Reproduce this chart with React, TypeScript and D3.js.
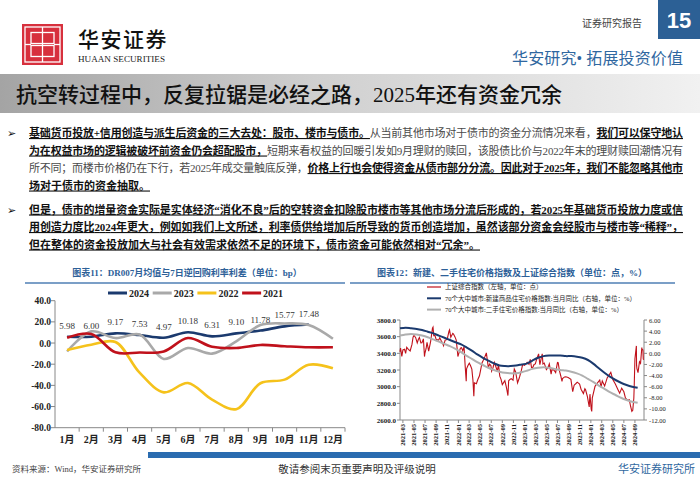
import React from 'react';
import * as d3 from 'd3';

// ---- 图表11 data ----
const monthLabels = ['1月', '2月', '3月', '4月', '5月', '6月', '7月', '8月', '9月', '10月', '11月', '12月'];
const spread2024 = [5.98, 6.0, 9.17, 7.53, 4.97, 10.18, 6.31, 9.1, 11.78, 15.77, 17.48];
const spread2023 = [-8, 11, 4.7, 8, -15, -4.7, -10, 1.6, 17, 18.5, 17, 4];
const spread2022 = [-6.5, -1.6, 1, -28, -46.6, -37.8, -53.5, -62.5, -38, -34.6, -20.5, -23.8];
const spread2021 = [5, 8.5, -8.8, -9, -8, 4.7, -3.5, -4.7, -1.8, -3, -4, -4];
const spreadTicks = [40, 20, 0, -20, -40, -60, -80];

// ---- 图表12 data ----
const sseDaily: [string, number][] = [
  ['2021-03-15', 3419], ['2021-03-18', 3463], ['2021-03-25', 3363], ['2021-03-31', 3441],
  ['2021-04-09', 3450], ['2021-04-15', 3399], ['2021-04-21', 3473], ['2021-04-30', 3447],
  ['2021-05-10', 3428], ['2021-05-20', 3507], ['2021-05-26', 3593], ['2021-05-31', 3615],
  ['2021-06-09', 3591], ['2021-06-18', 3525], ['2021-06-24', 3566], ['2021-06-30', 3591],
  ['2021-07-08', 3525], ['2021-07-14', 3528], ['2021-07-22', 3574], ['2021-07-28', 3361],
  ['2021-07-30', 3397], ['2021-08-06', 3458], ['2021-08-11', 3532], ['2021-08-20', 3427],
  ['2021-08-31', 3544], ['2021-09-10', 3703], ['2021-09-13', 3715], ['2021-09-17', 3613],
  ['2021-09-24', 3613], ['2021-09-30', 3568], ['2021-10-14', 3558], ['2021-10-20', 3587],
  ['2021-10-29', 3547], ['2021-11-04', 3526], ['2021-11-10', 3492], ['2021-11-19', 3560],
  ['2021-11-26', 3564], ['2021-12-01', 3576], ['2021-12-10', 3666], ['2021-12-13', 3681],
  ['2021-12-20', 3593], ['2021-12-31', 3640],
  ['2022-01-04', 3632], ['2022-01-12', 3597], ['2022-01-19', 3558], ['2022-01-27', 3394],
  ['2022-01-28', 3361], ['2022-02-11', 3462], ['2022-02-17', 3468], ['2022-02-24', 3430],
  ['2022-03-03', 3481], ['2022-03-09', 3256], ['2022-03-15', 3064], ['2022-03-17', 3215],
  ['2022-03-24', 3250], ['2022-04-01', 3282], ['2022-04-08', 3251], ['2022-04-15', 3211],
  ['2022-04-21', 3080], ['2022-04-26', 2886], ['2022-04-29', 3047], ['2022-05-10', 3035],
  ['2022-05-18', 3086], ['2022-05-27', 3130], ['2022-06-02', 3195], ['2022-06-10', 3285],
  ['2022-06-17', 3316], ['2022-06-24', 3349], ['2022-07-04', 3405], ['2022-07-15', 3228],
  ['2022-07-22', 3270], ['2022-07-29', 3253], ['2022-08-02', 3186], ['2022-08-10', 3230],
  ['2022-08-17', 3292], ['2022-08-26', 3236], ['2022-09-02', 3186], ['2022-09-09', 3262],
  ['2022-09-16', 3126], ['2022-09-23', 3088], ['2022-09-30', 3024], ['2022-10-14', 3071],
  ['2022-10-24', 2977], ['2022-10-31', 2893], ['2022-11-04', 3071], ['2022-11-11', 3087],
  ['2022-11-18', 3097], ['2022-11-28', 3078], ['2022-12-05', 3212], ['2022-12-12', 3179],
  ['2022-12-23', 3045], ['2022-12-30', 3089],
  ['2023-01-03', 3116], ['2023-01-13', 3195], ['2023-01-20', 3265], ['2023-01-31', 3256],
  ['2023-02-03', 3263], ['2023-02-14', 3293], ['2023-02-24', 3267], ['2023-03-03', 3328],
  ['2023-03-10', 3230], ['2023-03-16', 3227], ['2023-03-24', 3266], ['2023-03-31', 3273],
  ['2023-04-07', 3327], ['2023-04-18', 3393], ['2023-04-25', 3264], ['2023-05-08', 3395],
  ['2023-05-12', 3273], ['2023-05-19', 3283], ['2023-05-31', 3205], ['2023-06-09', 3231],
  ['2023-06-16', 3273], ['2023-06-26', 3150], ['2023-06-30', 3202], ['2023-07-10', 3203],
  ['2023-07-21', 3168], ['2023-07-31', 3291], ['2023-08-04', 3288], ['2023-08-11', 3189],
  ['2023-08-18', 3131], ['2023-08-25', 3064], ['2023-08-28', 3098], ['2023-09-08', 3117],
  ['2023-09-15', 3118], ['2023-09-28', 3110], ['2023-10-13', 3088], ['2023-10-23', 2939],
  ['2023-10-31', 3018], ['2023-11-10', 3038], ['2023-11-17', 3054], ['2023-11-30', 3030],
  ['2023-12-08', 2969], ['2023-12-21', 2918], ['2023-12-29', 2975],
  ['2024-01-02', 2962], ['2024-01-12', 2881], ['2024-01-22', 2756], ['2024-01-26', 2910],
  ['2024-02-02', 2730], ['2024-02-05', 2702], ['2024-02-08', 2866], ['2024-02-23', 3004],
  ['2024-03-08', 3046], ['2024-03-20', 3080], ['2024-03-27', 2993], ['2024-04-03', 3069],
  ['2024-04-16', 3007], ['2024-04-30', 3105], ['2024-05-20', 3171], ['2024-05-31', 3087],
  ['2024-06-14', 3033], ['2024-06-28', 2967], ['2024-07-08', 2922], ['2024-07-19', 2982],
  ['2024-07-31', 2939], ['2024-08-09', 2862], ['2024-08-22', 2836], ['2024-08-30', 2842],
  ['2024-09-06', 2765], ['2024-09-13', 2704], ['2024-09-18', 2717], ['2024-09-24', 2863],
  ['2024-09-26', 3001], ['2024-09-27', 3088], ['2024-09-30', 3336], ['2024-10-08', 3489],
  ['2024-10-09', 3258], ['2024-10-11', 3217], ['2024-10-17', 3169], ['2024-10-25', 3299],
  ['2024-10-31', 3279], ['2024-11-07', 3470], ['2024-11-08', 3452], ['2024-11-13', 3439],
  ['2024-11-15', 3331], ['2024-11-18', 3324],
];
// monthly, 2021-03 .. 2024-10
const newHomeYoY = [4.5, 4.6, 4.5, 4.4, 4.2, 3.9, 3.6, 3.2, 2.8, 2.4, 2.0, 1.6, 1.1, 0.5, -0.2, -0.8, -1.3, -1.8, -2.2, -2.3, -2.3, -2.2, -2.0, -1.8, -1.3, -0.8, -0.5, -0.4, -0.4, -0.4, -0.5, -0.5, -0.6, -0.8, -1.2, -1.9, -2.7, -3.5, -4.2, -4.8, -5.3, -5.7, -6.0, -6.2];
const usedHomeYoY = [3.2, 3.4, 3.5, 3.4, 3.2, 2.9, 2.5, 2.1, 1.7, 1.3, 0.8, 0.2, -0.4, -1.0, -1.6, -2.1, -2.6, -3.0, -3.3, -3.5, -3.6, -3.6, -3.4, -3.1, -2.8, -2.6, -2.5, -2.6, -2.8, -3.0, -3.1, -3.3, -3.6, -4.0, -4.6, -5.2, -5.8, -6.4, -7.0, -7.5, -8.0, -8.4, -8.7, -8.9];
const priceTickLabels = ['2021-03', '2021-05', '2021-07', '2021-09', '2021-11', '2022-01', '2022-03', '2022-05', '2022-07', '2022-09', '2022-11', '2023-01', '2023-03', '2023-05', '2023-07', '2023-09', '2023-11', '2024-01', '2024-03', '2024-05', '2024-07', '2024-09'];
const sseTicks = [3800, 3600, 3400, 3200, 3000, 2800, 2600];
const yoyTicks = [6, 4, 2, 0, -2, -4, -6, -8, -10, -12];

// ---- page text ----
type Seg = [string, boolean];
const paragraph: { segs: Seg[]; full: boolean; bullet?: boolean }[] = [
  { bullet: true, full: true, segs: [['基础货币投放+信用创造与派生后资金的三大去处：股市、楼市与债市。', true], ['从当前其他市场对于债市的资金分流情况来看，', false], ['我们可以保守地认', true]] },
  { full: true, segs: [['为在权益市场的逻辑被破坏前资金仍会超配股市，', true], ['短期来看权益的回暖引发如9月理财的赎回，该股债比价与2022年末的理财赎回潮情况有', false]] },
  { full: true, segs: [['所不同；而楼市价格仍在下行，若2025年成交量触底反弹，', false], ['价格上行也会使得资金从债市部分分流。因此对于2025年，我们不能忽略其他市', true]] },
  { full: false, segs: [['场对于债市的资金抽取。', true]] },
  { bullet: true, full: true, segs: [['但是，债市的增量资金实际是实体经济“消化不良”后的空转资金扣除股市楼市等其他市场分流后形成的，若2025年基础货币投放力度或信', true]] },
  { full: true, segs: [['用创造力度比2024年更大，例如如我们上文所述，利率债供给增加后所导致的货币创造增加，虽然该部分资金会经股市与楼市等“稀释”，', true]] },
  { full: false, segs: [['但在整体的资金投放加大与社会有效需求依然不足的环境下，债市资金可能依然相对“冗余”。', true]] },
];
const lineYs = [137, 154.5, 172, 189.5, 213.5, 231, 248.5];

const FONT = '"Liberation Serif", "Noto Sans CJK SC", serif';
const BLUE = '#2d6098';

export default function App() {
  // 图表11
  const xM = d3.scaleBand<string>().domain(monthLabels).range([55, 345]);
  const yS = d3.scaleLinear().domain([-80, 40]).range([427.7, 300.7]);
  const cx = (i: number) => xM(monthLabels[i])! + xM.bandwidth() / 2;
  const spreadLine = d3
    .line<number>()
    .x((_, i) => cx(i))
    .y((d) => yS(d))
    .curve(d3.curveCatmullRom.alpha(0.5));
  const spreadSeries = [
    { name: '2024', values: spread2024, color: '#1b3a6e' },
    { name: '2023', values: spread2023, color: '#a9a9a9' },
    { name: '2022', values: spread2022, color: '#f5c21b' },
    { name: '2021', values: spread2021, color: '#c0111b' },
  ];

  // 图表12
  const parse = d3.timeParse('%Y-%m-%d');
  const xT = d3.scaleTime().domain([parse('2021-03-15')!, parse('2024-11-19')!]).range([400, 644]);
  const yL = d3.scaleLinear().domain([2600, 3800]).range([420, 320]);
  const yR = d3.scaleLinear().domain([-12, 6]).range([420, 320]);
  const ssePts = sseDaily.map(([d, v]) => [parse(d)!, v] as [Date, number]);
  const sseLine = d3.line<[Date, number]>().x((d) => xT(d[0])).y((d) => yL(d[1]));
  const monthDate = (i: number) => new Date(2021, 2 + i, 15);
  const yoyLine = d3
    .line<number>()
    .x((_, i) => xT(monthDate(i)))
    .y((d) => yR(d))
    .curve(d3.curveCatmullRom.alpha(0.5));
  const tickX = (lab: string) => {
    const [y, m] = lab.split('-').map(Number);
    return xT(new Date(y, m, 0));
  };

  return (
    <svg width={700} height={485} style={{ position: 'absolute', left: 0, top: 0, background: '#fff' }} fontFamily={FONT}>
      <defs>
        <linearGradient id="band" x1="0" x2="1" y1="0" y2="0">
          <stop offset="0" stopColor="#a4a4a4" />
          <stop offset="0.45" stopColor="#cfcfcf" />
          <stop offset="1" stopColor="#f1f1f1" />
        </linearGradient>
      </defs>

      {/* header */}
      <g transform="translate(22,24)">
        <rect width={41} height={41} fill="#d7303d" />
        <g fill="none" stroke="#fff" strokeWidth={1.3}>
          <rect x={3} y={3} width={35} height={35} />
          <rect x={9} y={8.5} width={23} height={11} />
          <rect x={9} y={21.5} width={23} height={11} />
          <line x1={20.5} y1={3} x2={20.5} y2={38} />
          <line x1={3} y1={20.5} x2={9} y2={20.5} />
          <line x1={32} y1={20.5} x2={38} y2={20.5} />
        </g>
      </g>
      <text x={78} y={47} fontSize={21} fontWeight={500} letterSpacing={1.5} fill="#111">华安证券</text>
      <text x={78} y={62} fontSize={8.5} textLength={87} lengthAdjust="spacingAndGlyphs" fill="#222">HUAAN SECURITIES</text>
      <text x={582} y={27} fontSize={10} fill="#444">证券研究报告</text>
      <rect x={658} y={0} width={42} height={39} fill="#2c6095" />
      <text x={679} y={28} fontSize={22} fontWeight={700} fill="#fff" textAnchor="middle" fontFamily='"Liberation Sans", Arial, sans-serif'>15</text>
      <text x={512} y={64} fontSize={16} fill="#2f67a0" textLength={171}>华安研究• 拓展投资价值</text>

      {/* title band */}
      <rect x={0} y={74} width={700} height={39} fill="url(#band)" />
      <text x={16} y={102} fontSize={21} fontWeight={500} fill="#111">抗空转过程中，反复拉锯是必经之路，2025年还有资金冗余</text>

      {/* paragraphs */}
      {paragraph.map((ln, i) => (
        <g key={i}>
          {ln.bullet && (
            <text x={7} y={lineYs[i]} fontSize={11} fontFamily='"DejaVu Sans", sans-serif' fill="#111">➢</text>
          )}
          <text x={29} y={lineYs[i]} fontSize={11} {...(ln.full ? { textLength: 654, lengthAdjust: 'spacing' } : {})}>
            {ln.segs.map(([t, em], j) => (
              <tspan key={j} fontWeight={em ? 700 : 400} fill={em ? '#111' : '#4a4a4a'} style={em ? { textDecoration: 'underline' } : undefined}>
                {t}
              </tspan>
            ))}
          </text>
        </g>
      ))}

      {/* chart titles */}
      <text x={187} y={276} fontSize={9} fontWeight={700} fill={BLUE} textAnchor="middle">图表11：DR007月均值与7日逆回购利率利差（单位：bp）</text>
      <line x1={25} x2={345} y1={283} y2={283} stroke="#4f7fb5" strokeWidth={1.5} />
      <text x={512} y={276} fontSize={9} fontWeight={700} fill={BLUE} textAnchor="middle">图表12：新建、二手住宅价格指数及上证综合指数（单位：点，%）</text>
      <line x1={350} x2={675} y1={283} y2={283} stroke="#4f7fb5" strokeWidth={1.5} />

      {/* 图表11 */}
      <g>
        {spreadSeries.map((s, i) => (
          <g key={s.name} transform={`translate(${108 + i * 44.7},293)`}>
            <line x1={0} x2={19} y1={0} y2={0} stroke={s.color} strokeWidth={3} />
            <text x={21} y={3.5} fontSize={10} fontWeight={700} fill="#222">{s.name}</text>
          </g>
        ))}
        <line x1={55} x2={55} y1={yS(40)} y2={yS(-80)} stroke="#888" />
        <line x1={55} x2={345} y1={yS(-80)} y2={yS(-80)} stroke="#888" />
        {spreadTicks.map((t) => (
          <g key={t}>
            <line x1={51} x2={55} y1={yS(t)} y2={yS(t)} stroke="#888" />
            <text x={51} y={yS(t) + 3.5} fontSize={9.5} fontWeight={700} fill="#222" textAnchor="end">{t.toFixed(1)}</text>
          </g>
        ))}
        {monthLabels.map((m, i) => (
          <g key={m}>
            <line x1={xM(m)! + xM.bandwidth()} x2={xM(m)! + xM.bandwidth()} y1={yS(-80)} y2={yS(-80) + 4} stroke="#888" />
            <text x={cx(i)} y={443} fontSize={10} fontWeight={700} fill="#222" textAnchor="middle">{m}</text>
          </g>
        ))}
        {spreadSeries.map((s) => (
          <path key={s.name} d={spreadLine(s.values)!} fill="none" stroke={s.color} strokeWidth={2.6} />
        ))}
        {spread2024.map((v, i) => (
          <text key={i} x={cx(i)} y={yS(v) - 8} fontSize={9} fill="#333" textAnchor="middle">{v.toFixed(2)}</text>
        ))}
      </g>

      {/* 图表12 */}
      <g>
        {[
          { label: '上证综合指数（左轴，单位：点）', color: '#c0111b', w: 1.2 },
          { label: '70个大中城市:新建商品住宅价格指数:当月同比（右轴，单位：%）', color: '#1b3a6e', w: 2 },
          { label: '70个大中城市:二手住宅价格指数:当月同比（右轴，单位：%）', color: '#b0b0b0', w: 2 },
        ].map((l, i) => (
          <g key={i} transform={`translate(427,${287 + i * 11.3})`}>
            <line x1={0} x2={14} y1={0} y2={0} stroke={l.color} strokeWidth={l.w} />
            <text x={18} y={2.3} fontSize={6.5} fill="#222">{l.label}</text>
          </g>
        ))}
        <line x1={400} x2={400} y1={320} y2={420} stroke="#888" />
        <line x1={644} x2={644} y1={320} y2={420} stroke="#888" />
        <line x1={400} x2={644} y1={420} y2={420} stroke="#888" />
        {sseTicks.map((t) => (
          <g key={t}>
            <line x1={397} x2={400} y1={yL(t)} y2={yL(t)} stroke="#888" />
            <text x={396} y={yL(t) + 2.5} fontSize={7} fontWeight={700} fill="#222" textAnchor="end">{t.toFixed(1)}</text>
          </g>
        ))}
        {yoyTicks.map((t) => (
          <g key={t}>
            <line x1={644} x2={647} y1={yR(t)} y2={yR(t)} stroke="#888" />
            <text x={649} y={yR(t) + 2.5} fontSize={6.5} fill="#222">{t.toFixed(2)}</text>
          </g>
        ))}
        {priceTickLabels.map((lab) => (
          <g key={lab}>
            <line x1={tickX(lab)} x2={tickX(lab)} y1={420} y2={423} stroke="#888" />
            <text transform={`translate(${tickX(lab) + 2.2},424) rotate(-90)`} fontSize={6.5} fontWeight={700} fill="#222" textAnchor="end">{lab}</text>
          </g>
        ))}
        <path d={sseLine(ssePts)!} fill="none" stroke="#c0111b" strokeWidth={1.1} />
        <path d={yoyLine(usedHomeYoY)!} fill="none" stroke="#b0b0b0" strokeWidth={2} />
        <path d={yoyLine(newHomeYoY)!} fill="none" stroke="#1b3a6e" strokeWidth={2} />
      </g>

      {/* footer */}
      <rect x={148} y={452} width={552} height={6} fill="#2a6cb0" />
      <text x={12} y={472} fontSize={8.5} fill="#444">资料来源：Wind，华安证券研究所</text>
      <text x={357} y={473} fontSize={10.5} fill="#333" textAnchor="middle">敬请参阅末页重要声明及评级说明</text>
      <text x={695} y={473} fontSize={11} fill="#2f67a0" textAnchor="end">华安证券研究所</text>
    </svg>
  );
}
